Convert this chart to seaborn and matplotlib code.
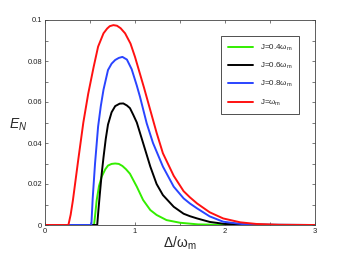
#Entanglement E_N vs detuning for several couplings J
import numpy as np
import pandas as pd
import matplotlib
matplotlib.use('Agg')
import matplotlib.pyplot as plt
import seaborn as sns

#Values
x_green = [0, 0.545, 0.56, 0.574, 0.60, 0.63, 0.67, 0.70, 0.74, 0.78, 0.82, 0.86, 0.90, 0.944, 0.98, 1.02, 1.09, 1.17, 1.24, 1.35, 1.5, 1.7, 2.0, 3.0]
y_green = [0, 0, 0.006, 0.012, 0.019, 0.0236, 0.0272, 0.029, 0.0298, 0.030, 0.0298, 0.0288, 0.0272, 0.025, 0.022, 0.0187, 0.0122, 0.0073, 0.0049, 0.0024, 0.0011, 0.0003, 0.00005, 0]

x_black = [0, 0.58, 0.595, 0.61, 0.63, 0.65, 0.675, 0.70, 0.74, 0.78, 0.83, 0.87, 0.91, 0.944, 0.98, 1.02, 1.09, 1.17, 1.24, 1.31, 1.43, 1.54, 1.61, 1.69, 1.83, 2.0, 2.3, 3.0]
y_black = [0, 0, 0.008, 0.0155, 0.025, 0.033, 0.042, 0.049, 0.055, 0.058, 0.0592, 0.0593, 0.0583, 0.057, 0.0538, 0.050, 0.040, 0.0285, 0.020, 0.0146, 0.0089, 0.0055, 0.0043, 0.0032, 0.0015, 0.0005, 0.0001, 0]

x_blue = [0, 0.515, 0.53, 0.556, 0.59, 0.62, 0.65, 0.70, 0.74, 0.78, 0.82, 0.86, 0.91, 0.963, 1.02, 1.055, 1.13, 1.2, 1.31, 1.43, 1.54, 1.61, 1.69, 1.83, 1.98, 2.2, 2.5, 3.0]
y_blue = [0, 0, 0.013, 0.030, 0.048, 0.058, 0.066, 0.0756, 0.0787, 0.0805, 0.0815, 0.082, 0.0807, 0.076, 0.068, 0.0626, 0.0496, 0.040, 0.0285, 0.0187, 0.013, 0.0105, 0.0081, 0.0042, 0.0016, 0.0004, 0.0001, 0]

x_red = [0, 0.26, 0.285, 0.31, 0.37, 0.426, 0.48, 0.54, 0.59, 0.65, 0.69, 0.72, 0.76, 0.80, 0.84, 0.89, 0.95, 1.0, 1.06, 1.1, 1.17, 1.24, 1.31, 1.43, 1.54, 1.61, 1.69, 1.83, 1.98, 2.17, 2.35, 2.6, 3.0]
y_red = [0, 0, 0.005, 0.012, 0.032, 0.050, 0.064, 0.077, 0.087, 0.0935, 0.0958, 0.097, 0.0975, 0.0972, 0.096, 0.0935, 0.0885, 0.082, 0.073, 0.067, 0.056, 0.045, 0.035, 0.024, 0.0165, 0.0135, 0.0105, 0.0062, 0.0032, 0.0013, 0.0005, 0.0001, 0]

labels = ['J=0.4ω$_\\mathrm{m}$', 'J=0.6ω$_\\mathrm{m}$', 'J=0.8ω$_\\mathrm{m}$', 'J=ω$_\\mathrm{m}$']
colors = ['#33ee00', 'black', '#2a44ff', '#ff1111']

sns.set_style('ticks')
plt.rcParams['font.family'] = ['Liberation Sans', 'DejaVu Sans']
plt.rcParams['mathtext.fontset'] = 'custom'
plt.rcParams['mathtext.rm'] = 'Liberation Sans'
plt.rcParams['mathtext.it'] = 'Liberation Sans:italic'

fig = plt.figure(figsize=(3.48, 2.61), dpi=100)
ax = fig.add_axes([45/348, 36/261, 270/348, 205/261])

for xs, ys, lab, c in zip([x_green, x_black, x_blue, x_red],
                          [y_green, y_black, y_blue, y_red], labels, colors):
    df = pd.DataFrame({'x': xs, 'y': ys})
    sns.lineplot(data=df, x='x', y='y', ax=ax, color=c, lw=1.4, label=lab)

ax.set_xlim(0, 3)
ax.set_ylim(0, 0.1)
ax.set_xticks([0, 1, 2, 3])
ax.set_xticks([0.5, 1.5, 2.5], minor=True)
ax.set_yticks([0, 0.02, 0.04, 0.06, 0.08, 0.1])
ax.set_yticklabels(['0', '0.02', '0.04', '0.06', '0.08', '0.1'])
ax.set_yticks([0.01, 0.03, 0.05, 0.07, 0.09], minor=True)
ax.tick_params(which='both', direction='in', top=True, right=True, labelsize=5.5,
               length=2.5, width=0.5, pad=2, colors='#444444', labelcolor='#222222')
for s in ax.spines.values():
    s.set_linewidth(0.6)
    s.set_color('#444444')

ax.set_xlabel('Δ/ω$_\\mathrm{m}$', fontsize=10, labelpad=0)
ax.set_ylabel('$E_N$', fontsize=10, rotation=0, labelpad=8)
ax.yaxis.set_label_coords(-0.1, 0.45)

leg = ax.legend(loc='upper right', bbox_to_anchor=(0.955, 0.94), fontsize=5.8, frameon=True,
                fancybox=False, edgecolor='black', handlelength=3.2, labelspacing=1.0,
                borderpad=0.8)
leg.get_frame().set_linewidth(0.6)

plt.savefig('out.png', dpi=100)
